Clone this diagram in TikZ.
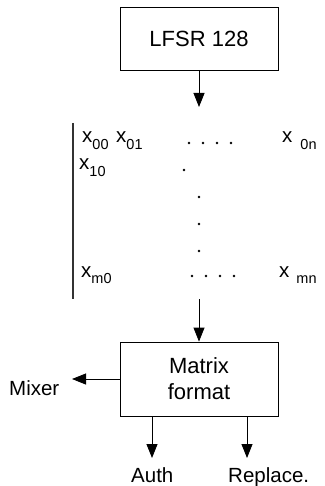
\documentclass[tikz,border=0pt]{standalone}
\usepackage{fontspec}
\setmainfont{Liberation Sans}
\usetikzlibrary{arrows.meta}
\newcommand{\xel}[2][0pt]{x\hspace{#1}\raisebox{-6.5pt}{\fontsize{14.5}{14.5}\selectfont#2}}
\begin{document}
\begin{tikzpicture}[x=1pt,y=-1pt,
	box/.style={draw,line width=.8pt,minimum width=158pt,inner sep=0pt,align=center,font=\fontsize{22}{26}\selectfont},
	arr/.style={-{Triangle[length=14pt,width=11pt]},line width=.8pt},
	lbl/.style={anchor=base west,inner sep=0pt,font=\fontsize{20.5}{24}\selectfont},
	ent/.style={anchor=base west,inner sep=0pt,font=\fontsize{20.5}{20}\selectfont}]
	\useasboundingbox(0,0)rectangle(324,486);
	\node[box,minimum height=63pt](lfsr)at(199,38.5){LFSR 128};
	\node[box,minimum height=74pt](matrix)at(199,379){Matrix\\format};
	\coordinate(gtop)at(199,107);
	\coordinate(gbot)at(199,299);
	\coordinate(mixtip)at(72,379);
	\coordinate(authtip)at(152,458);
	\coordinate(reptip)at(247,458);
	\node[ent](x00)at(82,143){\xel{00}};
	\node[ent](x01)at(116,143){\xel{01}};
	\node[ent](x0n)at(282,143){\xel[8pt]{0n}};
	\node[ent](x10)at(79,170){\xel{10}};
	\node[ent](xm0)at(81,277){\xel{m0}};
	\node[ent](xmn)at(279,277){\xel[7pt]{mn}};
	\node[lbl](mixer)at(9,395){Mixer};
	\node[lbl](auth)at(131,482){Auth};
	\node[lbl](replace)at(228,482){Replace.};
	\draw[black!80,line width=1.1pt](73,123)--(73,299);
	\foreach \x in {189,203,217,231}\fill(\x,143)circle(1.3pt);
	\foreach \x in {192,206,220,234}\fill(\x,276)circle(1.3pt);
	\foreach \y in {197,224,251}\fill(199,\y)circle(1.3pt);
	\fill(184,170)circle(1.3pt);
	\draw[arr](lfsr)--(gtop);
	\draw[arr](gbot)--(matrix);
	\draw[arr](matrix.west)--(mixtip);
	\draw[arr](matrix.south-|authtip)--(authtip);
	\draw[arr](matrix.south-|reptip)--(reptip);
\end{tikzpicture}
\end{document}
